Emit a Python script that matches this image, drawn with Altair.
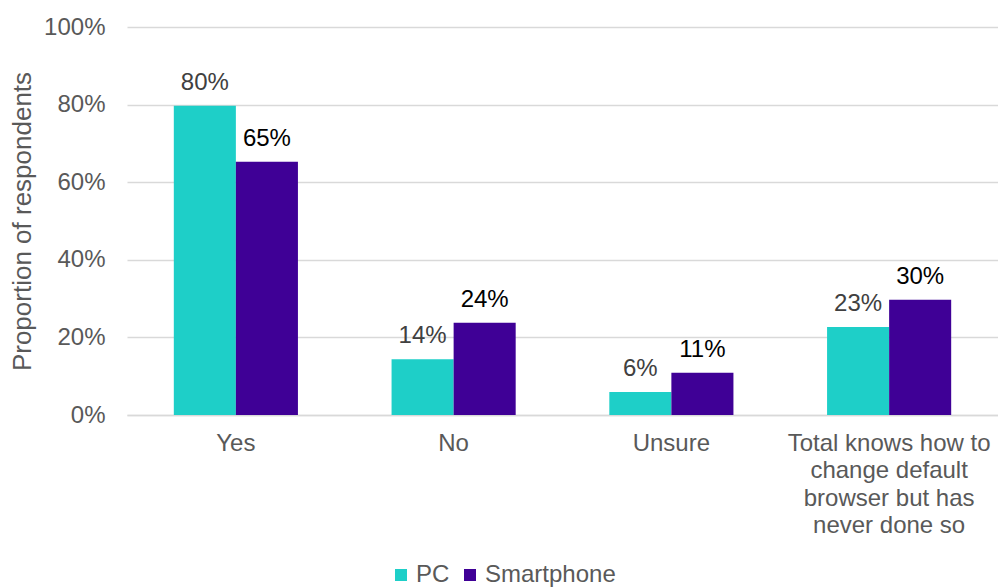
import altair as alt
import pandas as pd

categories = ["Yes", "No", "Unsure", "Total knows how to change default browser but has never done so"]
series = ["PC", "Smartphone"]
pc_values = [0.797, 0.144, 0.059, 0.227]
smartphone_values = [0.653, 0.238, 0.109, 0.297]

rows = []
for c, p, s in zip(categories, pc_values, smartphone_values):
    rows.append({"category": c, "device": "PC", "value": p})
    rows.append({"category": c, "device": "Smartphone", "value": s})
df = pd.DataFrame(rows)

FONT = "Liberation Sans"
GRAY = "#595959"
FS = 24
colors = ["#1ECFC8", "#3F0096"]

label_expr = ("datum.value == 'Yes' || datum.value == 'No' || datum.value == 'Unsure' ? datum.value : "
              "['Total knows how to', 'change default', 'browser but has', 'never done so']")

x_enc = alt.X("category:N", sort=categories, title=None,
              scale=alt.Scale(paddingInner=0.43, paddingOuter=0.215),
              axis=alt.Axis(labelAngle=0, labelFont=FONT, labelFontSize=FS, labelColor=GRAY,
                            labelPadding=16, labelLineHeight=27.5, labelExpr=label_expr,
                            labelLimit=400, ticks=False, domainColor="#d9d9d9", domainWidth=1.5,
                            labelBaseline="top"))
xoff = alt.XOffset("device:N", sort=series, scale=alt.Scale(paddingInner=0, paddingOuter=0))

bars = alt.Chart(df).mark_bar().encode(
    x=x_enc,
    xOffset=xoff,
    y=alt.Y("value:Q", title="Proportion of respondents",
            scale=alt.Scale(domain=[0, 1], nice=False),
            axis=alt.Axis(format=".0%", values=[0, 0.2, 0.4, 0.6, 0.8, 1.0],
                          labelFont=FONT, labelFontSize=FS, labelColor=GRAY, labelPadding=22,
                          ticks=False, domain=False, gridColor="#d9d9d9", gridWidth=1.5,
                          titleFont=FONT, titleFontSize=26, titleColor=GRAY, titleFontWeight="normal",
                          titleX=-105, titleY=194, titleAngle=-90, titleBaseline="middle", titleAlign="center")),
    color=alt.Color("device:N", sort=series, title=None,
                    scale=alt.Scale(domain=series, range=colors),
                    legend=alt.Legend(orient="none", legendX=262, legendY=536, direction="horizontal",
                                      symbolType="square", symbolSize=144, symbolStrokeWidth=0,
                                      labelFont=FONT, labelFontSize=FS, labelColor=GRAY,
                                      labelOffset=3, columnPadding=8, symbolOpacity=1)),
)

text = alt.Chart(df).mark_text(baseline="alphabetic", dy=-16, font=FONT, fontSize=FS).encode(
    x=alt.X("category:N", sort=categories),
    xOffset=xoff,
    y="value:Q",
    text=alt.Text("value:Q", format=".0%"),
    color=alt.Color("device:N", sort=series, scale=alt.Scale(domain=series, range=["#404040", "#000000"]), legend=None),
)

chart = alt.layer(bars, text).resolve_scale(color="independent").properties(
    width=871, height=388,
    autosize=alt.AutoSizeParams(type="none"),
    padding={"left": 127, "top": 27, "right": 0, "bottom": 173},
).configure_view(stroke=None).configure_axis(grid=True).configure_axisX(grid=False)

chart.save("out.html", embed_options={"renderer": "svg", "actions": False})
